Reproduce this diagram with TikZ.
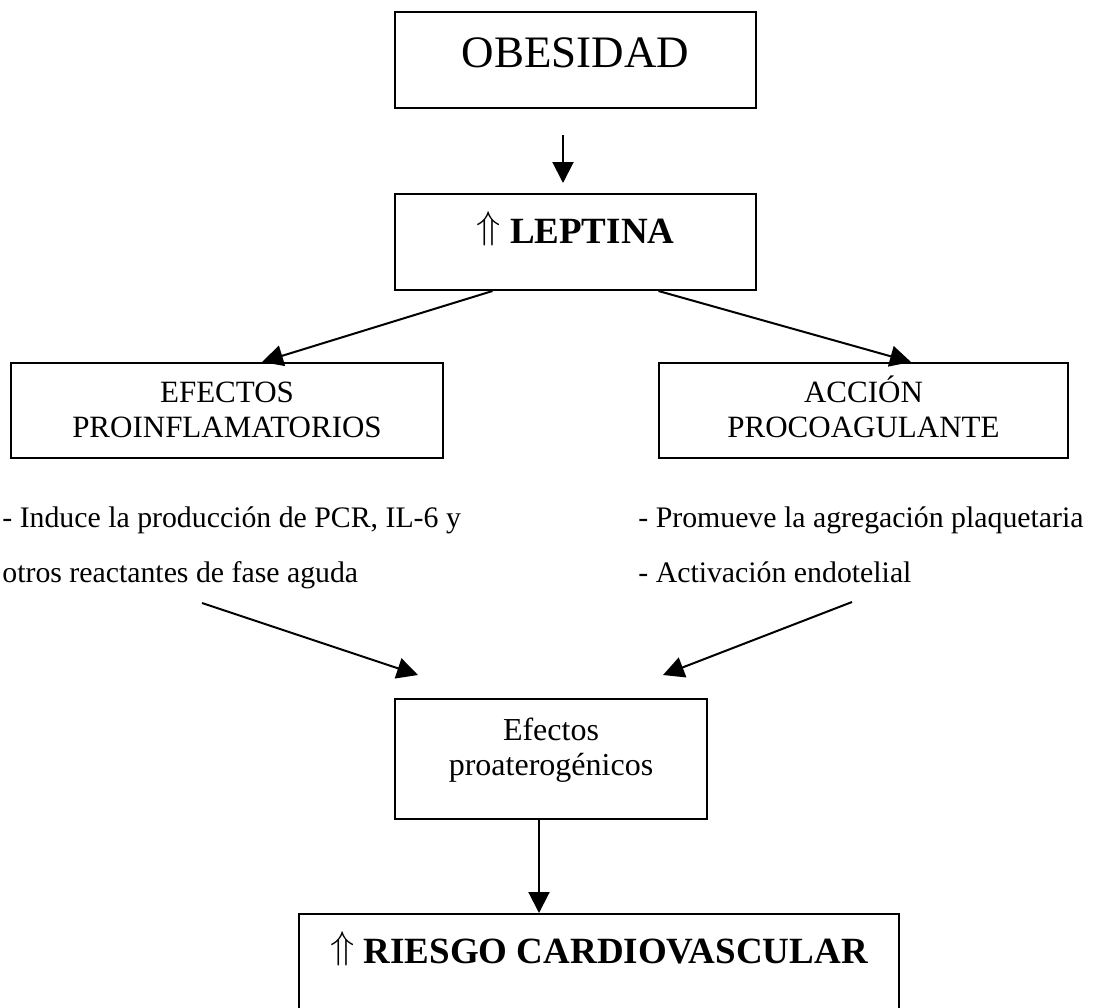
\documentclass[tikz,border=0pt]{standalone}
\usepackage{fontspec}
\usepackage{graphicx}
\setmainfont{Liberation Serif}
\usetikzlibrary{arrows.meta}

% thin double up-arrow, as tall as the capitals, sitting on the baseline
\newcommand{\upmark}{\raisebox{0.125em}{\scalebox{1.15}[1.12]{$\Uparrow$}}}

\begin{document}
\begin{tikzpicture}[x=0.5pt, y=-0.5pt,
  box/.style={draw, line width=1pt, rectangle, inner sep=0pt},
  arr/.style={line width=1pt, -{Triangle[length=10.5pt, width=10.5pt]}},
  lbl/.style={inner sep=0pt, anchor=base},
  body/.style={inner sep=0pt, anchor=base west, font=\fontsize{14.9pt}{18pt}\selectfont},
  big/.style={font=\fontsize{22.5pt}{27pt}\selectfont},
  bold/.style={font=\fontsize{18.5pt}{22pt}\selectfont\bfseries},
  mid/.style={font=\fontsize{15.5pt}{19pt}\selectfont},
  small/.style={font=\fontsize{16pt}{19pt}\selectfont}]

  % page
  \fill[white] (0,0) rectangle (1098,1007);
  \useasboundingbox (0,0) rectangle (1098,1007);

  % boxes
  \node[box, minimum width=180.5pt, minimum height=48pt]   (obes) at (575.5,60)  {};
  \node[box, minimum width=180.5pt, minimum height=48pt]   (lep)  at (575.5,242) {};
  \node[box, minimum width=216pt,   minimum height=47.5pt] (efe)  at (227,410.5) {};
  \node[box, minimum width=204.5pt, minimum height=47.5pt] (acc)  at (863.5,410.5) {};
  \node[box, minimum width=156pt,   minimum height=60pt]   (pro)  at (551,759) {};
  \node[box, minimum width=300pt,   minimum height=48pt]   (rie)  at (599,962) {};

  % box texts
  \node[lbl, big]  (tobes) at (575.5,67) {OBESIDAD};
  \node[lbl, bold] (tlep)  at (575.5,243) {\upmark\ LEPTINA};
  \node[lbl, mid]  (tefeA) at (227,402) {EFECTOS};
  \node[lbl, mid]  (tefeB) at (227,437) {PROINFLAMATORIOS};
  \node[lbl, mid]  (taccA) at (863.5,402) {ACCIÓN};
  \node[lbl, mid]  (taccB) at (863.5,437) {PROCOAGULANTE};
  \node[lbl, small] (tproA) at (551,740) {Efectos};
  \node[lbl, small] (tproB) at (551,775) {proaterogénicos};
  \node[lbl, bold] (trie)  at (599,963) {\upmark\ RIESGO CARDIOVASCULAR};

  % free text
  \node[body] (indA) at (2,527)   {- Induce la producción de PCR, IL-6 y};
  \node[body] (indB) at (2,582)   {otros reactantes de fase aguda};
  \node[body] (proA) at (638,527) {- Promueve la agregación plaquetaria};
  \node[body] (proB) at (638,582) {- Activación endotelial};

  % free arrow ends
  \coordinate (a1s) at (563,135);
  \coordinate (a1e) at (563,183);
  \coordinate (a2s) at (202,603);
  \coordinate (a2e) at (418,675);
  \coordinate (a3s) at (852,602);
  \coordinate (a3e) at (663,675);

  % connectors
  \draw[arr] (a1s) -- (a1e);
  \draw[arr] ([xshift=-41.5pt]lep.south) -- ([xshift=17.5pt]efe.north);
  \draw[arr] ([xshift=41.5pt]lep.south) -- ([xshift=23.75pt]acc.north);
  \draw[arr] (a2s) -- (a2e);
  \draw[arr] (a3s) -- (a3e);
  \draw[arr] ([xshift=-6pt]pro.south) -- ([xshift=-6pt]pro.south |- rie.north);
\end{tikzpicture}
\end{document}
